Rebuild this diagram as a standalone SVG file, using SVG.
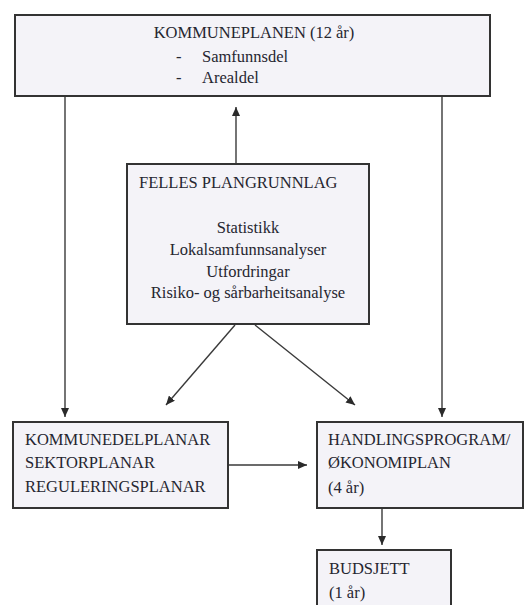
<svg xmlns="http://www.w3.org/2000/svg" width="525" height="605" viewBox="0 0 525 605">
<defs>
<marker id="ah" markerWidth="10" markerHeight="8" refX="9" refY="4" orient="auto" markerUnits="userSpaceOnUse">
<path d="M0,0 L9,4 L0,8 Z" fill="#2a2a2a"/>
</marker>
<style>
.box{fill:#f4f3f8;stroke:#333;stroke-width:2}
.t{font-family:"Liberation Serif","Times New Roman",serif;font-size:16.5px;fill:#262630}
.c{text-anchor:middle}
.ln{stroke:#3a3a3a;stroke-width:1.4;fill:none;marker-end:url(#ah)}
</style>
</defs>
<rect width="525" height="605" fill="#ffffff"/>
<g id="connectors">
<line class="ln" x1="65" y1="97" x2="65" y2="417"/>
<line class="ln" x1="442" y1="97" x2="442" y2="417"/>
<line class="ln" x1="236" y1="164" x2="236" y2="107"/>
<line class="ln" x1="235" y1="325" x2="166" y2="405"/>
<line class="ln" x1="255" y1="325" x2="355" y2="405"/>
<line class="ln" x1="228" y1="465" x2="307" y2="465"/>
<line class="ln" x1="382" y1="509" x2="382" y2="545"/>
</g>
<g id="kommuneplanen">
<rect class="box" x="15" y="15" width="475" height="81"/>
<text class="t c" x="254" y="38">KOMMUNEPLANEN (12 år)</text>
<text class="t" x="176" y="62">-</text>
<text class="t" x="202" y="62">Samfunnsdel</text>
<text class="t" x="176" y="83">-</text>
<text class="t" x="202" y="83">Arealdel</text>
</g>
<g id="felles">
<rect class="box" x="127" y="164" width="242" height="160"/>
<text class="t" x="139" y="188">FELLES PLANGRUNNLAG</text>
<text class="t c" x="248" y="233">Statistikk</text>
<text class="t c" x="248" y="255">Lokalsamfunnsanalyser</text>
<text class="t c" x="248" y="277">Utfordringar</text>
<text class="t c" x="248" y="298">Risiko- og sårbarheitsanalyse</text>
</g>
<g id="kommunedelplanar">
<rect class="box" x="13" y="422" width="215" height="86"/>
<text class="t" x="25" y="445">KOMMUNEDELPLANAR</text>
<text class="t" x="25" y="468">SEKTORPLANAR</text>
<text class="t" x="25" y="492">REGULERINGSPLANAR</text>
</g>
<g id="handlingsprogram">
<rect class="box" x="317" y="422" width="206" height="86"/>
<text class="t" x="328" y="445">HANDLINGSPROGRAM/</text>
<text class="t" x="328" y="468">ØKONOMIPLAN</text>
<text class="t" x="328" y="493">(4 år)</text>
</g>
<g id="budsjett">
<rect class="box" x="317" y="550" width="134" height="70"/>
<text class="t" x="329" y="574">BUDSJETT</text>
<text class="t" x="329" y="598">(1 år)</text>
</g>
</svg>
